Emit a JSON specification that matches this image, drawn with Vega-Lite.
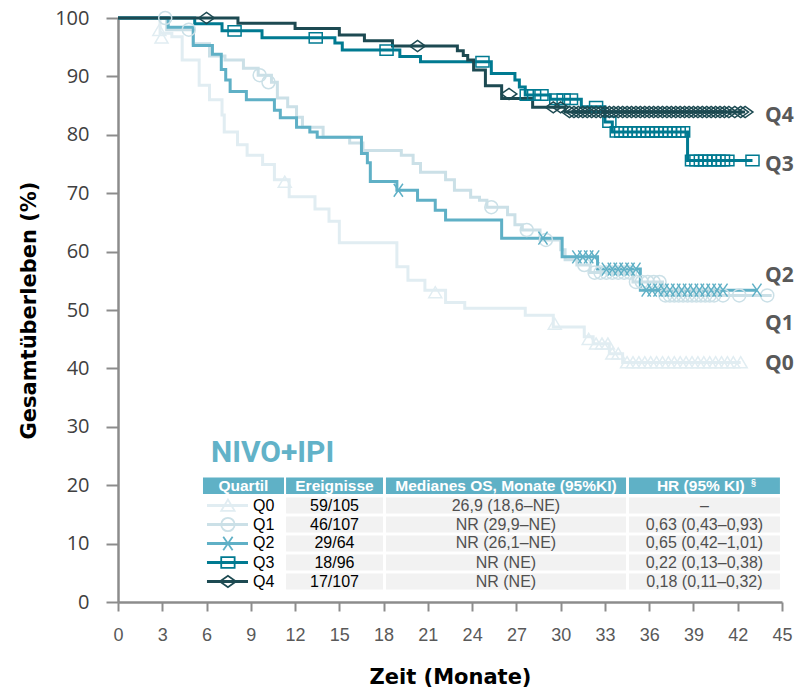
{
  "$schema": "https://vega.github.io/schema/vega-lite/v6.json",
  "width": 664,
  "height": 584,
  "autosize": {"type": "none"},
  "padding": {"left": 118, "top": 18, "right": 18, "bottom": 88},
  "background": "white",
  "config": {"view": {"stroke": null}},
  "datasets": {
    "km": [
      {"q":"Q0","t":0,"s":100},{"q":"Q0","t":2.85,"s":97.4},{"q":"Q0","t":3.65,"s":96.8},{"q":"Q0","t":4.35,"s":92.8},{"q":"Q0","t":5.5,"s":88.5},{"q":"Q0","t":6.2,"s":86.0},{"q":"Q0","t":7.05,"s":83.4},{"q":"Q0","t":7.2,"s":80.5},{"q":"Q0","t":8.1,"s":78.3},{"q":"Q0","t":8.75,"s":76.5},{"q":"Q0","t":9.8,"s":74.9},{"q":"Q0","t":10.6,"s":72.3},{"q":"Q0","t":11.6,"s":69.4},{"q":"Q0","t":13.35,"s":67.3},{"q":"Q0","t":14.3,"s":65.2},{"q":"Q0","t":15.0,"s":61.5},{"q":"Q0","t":18.9,"s":57.4},{"q":"Q0","t":19.65,"s":55.1},{"q":"Q0","t":20.8,"s":53.4},{"q":"Q0","t":22.2,"s":51.3},{"q":"Q0","t":23.5,"s":50.3},{"q":"Q0","t":27.6,"s":49.1},{"q":"Q0","t":29.5,"s":47.1},{"q":"Q0","t":31.6,"s":45.4},{"q":"Q0","t":32.2,"s":44.2},{"q":"Q0","t":33.3,"s":42.5},{"q":"Q0","t":34.2,"s":41.0},{"q":"Q0","t":42.2,"s":41.0},
      {"q":"Q1","t":0,"s":100},{"q":"Q1","t":3.3,"s":98.0},{"q":"Q1","t":5.1,"s":95.6},{"q":"Q1","t":6.2,"s":93.5},{"q":"Q1","t":7.25,"s":92.8},{"q":"Q1","t":8.5,"s":91.4},{"q":"Q1","t":9.5,"s":90.2},{"q":"Q1","t":10.4,"s":89.0},{"q":"Q1","t":10.8,"s":86.3},{"q":"Q1","t":11.5,"s":84.8},{"q":"Q1","t":12.1,"s":83.0},{"q":"Q1","t":12.5,"s":81.3},{"q":"Q1","t":13.9,"s":79.6},{"q":"Q1","t":15.7,"s":78.6},{"q":"Q1","t":16.6,"s":77.3},{"q":"Q1","t":19.2,"s":76.5},{"q":"Q1","t":20.0,"s":75.1},{"q":"Q1","t":20.5,"s":73.6},{"q":"Q1","t":22.2,"s":72.3},{"q":"Q1","t":22.8,"s":70.5},{"q":"Q1","t":23.9,"s":69.3},{"q":"Q1","t":24.5,"s":68.8},{"q":"Q1","t":25.0,"s":67.6},{"q":"Q1","t":26.4,"s":66.3},{"q":"Q1","t":26.9,"s":64.6},{"q":"Q1","t":27.4,"s":63.7},{"q":"Q1","t":28.6,"s":62.0},{"q":"Q1","t":30.0,"s":60.3},{"q":"Q1","t":30.3,"s":58.6},{"q":"Q1","t":31.1,"s":57.7},{"q":"Q1","t":32.0,"s":56.4},{"q":"Q1","t":34.9,"s":54.8},{"q":"Q1","t":36.9,"s":52.5},{"q":"Q1","t":44.3,"s":52.5},
      {"q":"Q2","t":0,"s":100},{"q":"Q2","t":3.4,"s":98.4},{"q":"Q2","t":5.1,"s":95.3},{"q":"Q2","t":6.4,"s":93.8},{"q":"Q2","t":7.0,"s":91.2},{"q":"Q2","t":7.3,"s":89.4},{"q":"Q2","t":7.6,"s":87.4},{"q":"Q2","t":8.7,"s":86.0},{"q":"Q2","t":10.6,"s":84.2},{"q":"Q2","t":11.0,"s":82.9},{"q":"Q2","t":12.1,"s":81.3},{"q":"Q2","t":13.0,"s":80.5},{"q":"Q2","t":13.5,"s":79.6},{"q":"Q2","t":16.5,"s":76.8},{"q":"Q2","t":16.9,"s":75.2},{"q":"Q2","t":17.1,"s":72.0},{"q":"Q2","t":18.9,"s":70.5},{"q":"Q2","t":20.3,"s":68.8},{"q":"Q2","t":21.5,"s":67.1},{"q":"Q2","t":22.2,"s":65.4},{"q":"Q2","t":26.0,"s":62.3},{"q":"Q2","t":30.1,"s":59.1},{"q":"Q2","t":32.5,"s":57.0},{"q":"Q2","t":35.4,"s":53.4},{"q":"Q2","t":43.3,"s":53.4},
      {"q":"Q3","t":0,"s":100},{"q":"Q3","t":5.2,"s":99.0},{"q":"Q3","t":7.05,"s":97.8},{"q":"Q3","t":9.76,"s":96.6},{"q":"Q3","t":14.7,"s":95.7},{"q":"Q3","t":15.2,"s":94.5},{"q":"Q3","t":19.1,"s":93.4},{"q":"Q3","t":20.5,"s":92.5},{"q":"Q3","t":25.3,"s":90.5},{"q":"Q3","t":26.9,"s":89.4},{"q":"Q3","t":27.2,"s":88.2},{"q":"Q3","t":27.6,"s":86.8},{"q":"Q3","t":29.3,"s":86.1},{"q":"Q3","t":31.4,"s":84.8},{"q":"Q3","t":33.0,"s":82.2},{"q":"Q3","t":33.5,"s":80.5},{"q":"Q3","t":38.6,"s":75.6},{"q":"Q3","t":43.0,"s":75.6},
      {"q":"Q4","t":0,"s":100},{"q":"Q4","t":8.13,"s":99.1},{"q":"Q4","t":12.0,"s":98.2},{"q":"Q4","t":15.0,"s":97.1},{"q":"Q4","t":16.7,"s":96.1},{"q":"Q4","t":18.6,"s":95.2},{"q":"Q4","t":23.0,"s":94.4},{"q":"Q4","t":23.4,"s":93.6},{"q":"Q4","t":23.7,"s":92.8},{"q":"Q4","t":24.1,"s":91.1},{"q":"Q4","t":24.9,"s":88.4},{"q":"Q4","t":26.0,"s":86.2},{"q":"Q4","t":28.1,"s":84.7},{"q":"Q4","t":30.3,"s":83.9},{"q":"Q4","t":42.5,"s":83.9}
    ],
    "cens": [
      {"q":"Q0","t":2.8,"s":97.9},{"q":"Q0","t":2.95,"s":96.6},{"q":"Q0","t":11.3,"s":71.9},{"q":"Q0","t":21.5,"s":53.0},{"q":"Q0","t":29.6,"s":47.6},{"q":"Q0","t":31.9,"s":45.0},{"q":"Q0","t":32.4,"s":44.2},{"q":"Q0","t":32.8,"s":44.2},{"q":"Q0","t":33.2,"s":44.2},{"q":"Q0","t":33.5,"s":42.5},{"q":"Q0","t":33.9,"s":42.5},{"q":"Q0","t":34.5,"s":41.0},{"q":"Q0","t":34.9,"s":41.0},{"q":"Q0","t":35.3,"s":41.0},{"q":"Q0","t":35.7,"s":41.0},{"q":"Q0","t":36.1,"s":41.0},{"q":"Q0","t":36.5,"s":41.0},{"q":"Q0","t":36.9,"s":41.0},{"q":"Q0","t":37.3,"s":41.0},{"q":"Q0","t":37.7,"s":41.0},{"q":"Q0","t":38.1,"s":41.0},{"q":"Q0","t":38.5,"s":41.0},{"q":"Q0","t":38.9,"s":41.0},{"q":"Q0","t":39.3,"s":41.0},{"q":"Q0","t":39.7,"s":41.0},{"q":"Q0","t":40.1,"s":41.0},{"q":"Q0","t":40.5,"s":41.0},{"q":"Q0","t":40.9,"s":41.0},{"q":"Q0","t":41.3,"s":41.0},{"q":"Q0","t":41.7,"s":41.0},{"q":"Q0","t":42.2,"s":41.0},
      {"q":"Q1","t":3.2,"s":100},{"q":"Q1","t":4.8,"s":98.0},{"q":"Q1","t":9.6,"s":90.2},{"q":"Q1","t":10.2,"s":89.0},{"q":"Q1","t":25.3,"s":67.6},{"q":"Q1","t":27.7,"s":63.7},{"q":"Q1","t":29.0,"s":62.0},{"q":"Q1","t":31.6,"s":57.7},{"q":"Q1","t":32.3,"s":56.4},{"q":"Q1","t":32.7,"s":56.4},{"q":"Q1","t":33.1,"s":56.4},{"q":"Q1","t":33.5,"s":56.4},{"q":"Q1","t":33.9,"s":56.4},{"q":"Q1","t":34.3,"s":56.4},{"q":"Q1","t":34.7,"s":56.4},{"q":"Q1","t":35.1,"s":54.8},{"q":"Q1","t":35.5,"s":54.8},{"q":"Q1","t":35.9,"s":54.8},{"q":"Q1","t":36.3,"s":54.8},{"q":"Q1","t":36.7,"s":54.8},{"q":"Q1","t":37.1,"s":52.5},{"q":"Q1","t":37.4,"s":52.5},{"q":"Q1","t":37.7,"s":52.5},{"q":"Q1","t":38.0,"s":52.5},{"q":"Q1","t":38.3,"s":52.5},{"q":"Q1","t":38.6,"s":52.5},{"q":"Q1","t":38.9,"s":52.5},{"q":"Q1","t":39.2,"s":52.5},{"q":"Q1","t":39.5,"s":52.5},{"q":"Q1","t":39.8,"s":52.5},{"q":"Q1","t":40.1,"s":52.5},{"q":"Q1","t":40.4,"s":52.5},{"q":"Q1","t":41.0,"s":52.5},{"q":"Q1","t":42.1,"s":52.5},{"q":"Q1","t":44.0,"s":52.5},
      {"q":"Q2","t":19.0,"s":70.5},{"q":"Q2","t":28.8,"s":62.3},{"q":"Q2","t":31.1,"s":59.1},{"q":"Q2","t":31.5,"s":59.1},{"q":"Q2","t":31.9,"s":59.1},{"q":"Q2","t":32.3,"s":59.1},{"q":"Q2","t":33.1,"s":57.0},{"q":"Q2","t":33.5,"s":57.0},{"q":"Q2","t":33.9,"s":57.0},{"q":"Q2","t":34.3,"s":57.0},{"q":"Q2","t":34.7,"s":57.0},{"q":"Q2","t":35.1,"s":57.0},{"q":"Q2","t":35.8,"s":53.4},{"q":"Q2","t":36.2,"s":53.4},{"q":"Q2","t":36.6,"s":53.4},{"q":"Q2","t":37.0,"s":53.4},{"q":"Q2","t":37.4,"s":53.4},{"q":"Q2","t":37.8,"s":53.4},{"q":"Q2","t":38.2,"s":53.4},{"q":"Q2","t":38.6,"s":53.4},{"q":"Q2","t":39.0,"s":53.4},{"q":"Q2","t":39.4,"s":53.4},{"q":"Q2","t":39.8,"s":53.4},{"q":"Q2","t":40.2,"s":53.4},{"q":"Q2","t":40.6,"s":53.4},{"q":"Q2","t":41.0,"s":53.4},{"q":"Q2","t":43.3,"s":53.4},
      {"q":"Q3","t":7.9,"s":97.8},{"q":"Q3","t":13.4,"s":96.6},{"q":"Q3","t":18.2,"s":94.5},{"q":"Q3","t":24.7,"s":92.5},{"q":"Q3","t":27.7,"s":86.8},{"q":"Q3","t":28.2,"s":86.8},{"q":"Q3","t":28.7,"s":86.8},{"q":"Q3","t":29.7,"s":86.1},{"q":"Q3","t":30.2,"s":86.1},{"q":"Q3","t":30.7,"s":86.1},{"q":"Q3","t":32.4,"s":84.8},{"q":"Q3","t":33.3,"s":82.2},{"q":"Q3","t":33.8,"s":80.5},{"q":"Q3","t":34.1,"s":80.5},{"q":"Q3","t":34.4,"s":80.5},{"q":"Q3","t":34.7,"s":80.5},{"q":"Q3","t":35.0,"s":80.5},{"q":"Q3","t":35.3,"s":80.5},{"q":"Q3","t":35.6,"s":80.5},{"q":"Q3","t":35.9,"s":80.5},{"q":"Q3","t":36.2,"s":80.5},{"q":"Q3","t":36.5,"s":80.5},{"q":"Q3","t":36.8,"s":80.5},{"q":"Q3","t":37.1,"s":80.5},{"q":"Q3","t":37.4,"s":80.5},{"q":"Q3","t":37.7,"s":80.5},{"q":"Q3","t":38.0,"s":80.5},{"q":"Q3","t":38.3,"s":80.5},{"q":"Q3","t":38.9,"s":75.6},{"q":"Q3","t":39.2,"s":75.6},{"q":"Q3","t":39.5,"s":75.6},{"q":"Q3","t":39.8,"s":75.6},{"q":"Q3","t":40.1,"s":75.6},{"q":"Q3","t":40.4,"s":75.6},{"q":"Q3","t":40.7,"s":75.6},{"q":"Q3","t":41.0,"s":75.6},{"q":"Q3","t":41.3,"s":75.6},{"q":"Q3","t":43.0,"s":75.6},
      {"q":"Q4","t":6.0,"s":100},{"q":"Q4","t":20.3,"s":95.2},{"q":"Q4","t":26.5,"s":87.0},{"q":"Q4","t":29.5,"s":84.7},{"q":"Q4","t":30.0,"s":84.7},{"q":"Q4","t":30.6,"s":83.9},{"q":"Q4","t":30.9,"s":83.9},{"q":"Q4","t":31.2,"s":83.9},{"q":"Q4","t":31.5,"s":83.9},{"q":"Q4","t":31.8,"s":83.9},{"q":"Q4","t":32.1,"s":83.9},{"q":"Q4","t":32.4,"s":83.9},{"q":"Q4","t":32.7,"s":83.9},{"q":"Q4","t":33.0,"s":83.9},{"q":"Q4","t":33.3,"s":83.9},{"q":"Q4","t":33.6,"s":83.9},{"q":"Q4","t":33.9,"s":83.9},{"q":"Q4","t":34.2,"s":83.9},{"q":"Q4","t":34.5,"s":83.9},{"q":"Q4","t":34.8,"s":83.9},{"q":"Q4","t":35.1,"s":83.9},{"q":"Q4","t":35.4,"s":83.9},{"q":"Q4","t":35.7,"s":83.9},{"q":"Q4","t":36.0,"s":83.9},{"q":"Q4","t":36.3,"s":83.9},{"q":"Q4","t":36.6,"s":83.9},{"q":"Q4","t":36.9,"s":83.9},{"q":"Q4","t":37.2,"s":83.9},{"q":"Q4","t":37.5,"s":83.9},{"q":"Q4","t":37.8,"s":83.9},{"q":"Q4","t":38.1,"s":83.9},{"q":"Q4","t":38.4,"s":83.9},{"q":"Q4","t":38.7,"s":83.9},{"q":"Q4","t":39.0,"s":83.9},{"q":"Q4","t":39.3,"s":83.9},{"q":"Q4","t":39.6,"s":83.9},{"q":"Q4","t":39.9,"s":83.9},{"q":"Q4","t":40.2,"s":83.9},{"q":"Q4","t":40.5,"s":83.9},{"q":"Q4","t":40.8,"s":83.9},{"q":"Q4","t":41.1,"s":83.9},{"q":"Q4","t":41.4,"s":83.9},{"q":"Q4","t":41.8,"s":83.9},{"q":"Q4","t":42.2,"s":83.9},{"q":"Q4","t":42.5,"s":83.9}
    ],
    "headcells": [
      {"x1":5.76,"x2":11.25,"y1":21.3,"y2":18.5},
      {"x1":11.39,"x2":17.96,"y1":21.3,"y2":18.5},
      {"x1":18.16,"x2":34.43,"y1":21.3,"y2":18.5},
      {"x1":34.63,"x2":44.86,"y1":21.3,"y2":18.5}
    ],
    "bodycells": [
      {"x1":11.39,"x2":17.96,"y1":17.89,"y2":15.15},{"x1":18.16,"x2":34.43,"y1":17.89,"y2":15.15},{"x1":34.63,"x2":44.86,"y1":17.89,"y2":15.15},
      {"x1":11.39,"x2":17.96,"y1":14.64,"y2":11.90},{"x1":18.16,"x2":34.43,"y1":14.64,"y2":11.90},{"x1":34.63,"x2":44.86,"y1":14.64,"y2":11.90},
      {"x1":11.39,"x2":17.96,"y1":11.39,"y2":8.65},{"x1":18.16,"x2":34.43,"y1":11.39,"y2":8.65},{"x1":34.63,"x2":44.86,"y1":11.39,"y2":8.65},
      {"x1":11.39,"x2":17.96,"y1":8.13,"y2":5.39},{"x1":18.16,"x2":34.43,"y1":8.13,"y2":5.39},{"x1":34.63,"x2":44.86,"y1":8.13,"y2":5.39},
      {"x1":11.39,"x2":17.96,"y1":4.88,"y2":2.14},{"x1":18.16,"x2":34.43,"y1":4.88,"y2":2.14},{"x1":34.63,"x2":44.86,"y1":4.88,"y2":2.14}
    ],
    "headtext": [
      {"label":"Quartil","x":8.5,"y":19.85},
      {"label":"Ereignisse","x":14.67,"y":19.85},
      {"label":"Medianes  OS, Monate (95%KI)","x":26.29,"y":19.85},
      {"label":"HR (95% KI)","x":39.5,"y":19.85}
    ],
    "sup": [{"label":"§","x":42.9,"y":20.5}],
    "bodytext": [
      {"col":"ev","label":"59/105","x":14.67,"y":16.52},{"col":"med","label":"26,9 (18,6–NE)","x":26.29,"y":16.52},{"col":"hr","label":"–","x":39.74,"y":16.52},
      {"col":"ev","label":"46/107","x":14.67,"y":13.27},{"col":"med","label":"NR (29,9–NE)","x":26.29,"y":13.27},{"col":"hr","label":"0,63 (0,43–0,93)","x":39.74,"y":13.27},
      {"col":"ev","label":"29/64","x":14.67,"y":10.02},{"col":"med","label":"NR (26,1–NE)","x":26.29,"y":10.02},{"col":"hr","label":"0,65 (0,42–1,01)","x":39.74,"y":10.02},
      {"col":"ev","label":"18/96","x":14.67,"y":6.76},{"col":"med","label":"NR (NE)","x":26.29,"y":6.76},{"col":"hr","label":"0,22 (0,13–0,38)","x":39.74,"y":6.76},
      {"col":"ev","label":"17/107","x":14.67,"y":3.51},{"col":"med","label":"NR (NE)","x":26.29,"y":3.51},{"col":"hr","label":"0,18 (0,11–0,32)","x":39.74,"y":3.51}
    ],
    "legend": [
      {"q":"Q0","x1":6.03,"x2":8.81,"xm":7.45,"xl":9.15,"y":16.52},
      {"q":"Q1","x1":6.03,"x2":8.81,"xm":7.45,"xl":9.15,"y":13.27},
      {"q":"Q2","x1":6.03,"x2":8.81,"xm":7.45,"xl":9.15,"y":10.02},
      {"q":"Q3","x1":6.03,"x2":8.81,"xm":7.45,"xl":9.15,"y":6.76},
      {"q":"Q4","x1":6.03,"x2":8.81,"xm":7.45,"xl":9.15,"y":3.51}
    ],
    "endlabels": [
      {"q":"Q4","x":43.85,"y":83.2},
      {"q":"Q3","x":43.85,"y":74.9},
      {"q":"Q2","x":43.85,"y":55.8},
      {"q":"Q1","x":43.85,"y":47.6},
      {"q":"Q0","x":43.85,"y":40.75}
    ],
    "title": [{"label":"NIVO+IPI","x":6.3,"y":23.97}]
  },
  "layer": [
    {
      "data": {"name": "km"},
      "mark": {"type": "line", "interpolate": "step-after", "strokeWidth": 3},
      "encoding": {
        "x": {"field": "t", "type": "quantitative",
          "scale": {"domain": [0, 45], "nice": false, "zero": true},
          "axis": {"title": "Zeit (Monate)", "values": [0,3,6,9,12,15,18,21,24,27,30,33,36,39,42,45],
            "grid": false, "tickSize": 9, "tickWidth": 2, "tickColor": "#8c8c8c",
            "domainColor": "#8c8c8c", "domainWidth": 2.5, "labelFlush": false, "labelOverlap": false,
            "labelFont": "Liberation Sans", "labelFontSize": 18, "labelColor": "#595959", "labelPadding": 15,
            "titleFont": "DejaVu Sans", "titleFontSize": 21, "titleFontWeight": "bold", "titleColor": "#000000", "titlePadding": 22}},
        "y": {"field": "s", "type": "quantitative",
          "scale": {"domain": [0, 100], "nice": false},
          "axis": {"title": "Gesamtüberleben (%)", "values": [0,10,20,30,40,50,60,70,80,90,100],
            "grid": false, "tickSize": 12, "tickWidth": 2, "tickColor": "#8c8c8c",
            "domainColor": "#8c8c8c", "domainWidth": 2.5, "labelOverlap": false,
            "labelFont": "Open Sans", "labelFontSize": 20, "labelColor": "#404040", "labelPadding": 17,
            "titleFont": "DejaVu Sans", "titleFontSize": 21, "titleFontWeight": "bold", "titleColor": "#000000",
            "titleX": -89, "titleY": 292, "titleAngle": 270, "titleAlign": "center", "titleBaseline": "middle"}},
        "color": {"field": "q", "type": "nominal", "legend": null,
          "scale": {"domain": ["Q0","Q1","Q2","Q3","Q4"], "range": ["#e1edf2","#cbe0e7","#5fb0c6","#007a91","#1d4a52"]}},
        "detail": {"field": "q"}
      }
    },
    {
      "data": {"name": "cens"},
      "mark": {"type": "point", "filled": false, "strokeWidth": 1.5, "size": 170, "opacity": 1},
      "encoding": {
        "x": {"field": "t", "type": "quantitative"},
        "y": {"field": "s", "type": "quantitative"},
        "color": {"field": "q", "type": "nominal", "legend": null},
        "shape": {"field": "q", "type": "nominal", "legend": null,
          "scale": {"domain": ["Q0","Q1","Q2","Q3","Q4"],
            "range": ["M0,-0.9L1,0.8L-1,0.8Z","circle","M-0.7,-1L0.7,1M0.7,-1L-0.7,1","M-1,-0.8L1,-0.8L1,0.8L-1,0.8Z","M-1.2,0L0,-0.85L1.2,0L0,0.85Z"]}}
      }
    },
    {
      "data": {"name": "headcells"},
      "mark": {"type": "rect", "color": "#5fb1c6"},
      "encoding": {
        "x": {"field": "x1", "type": "quantitative"}, "x2": {"field": "x2"},
        "y": {"field": "y1", "type": "quantitative"}, "y2": {"field": "y2"}
      }
    },
    {
      "data": {"name": "bodycells"},
      "mark": {"type": "rect", "color": "#f2f2f2"},
      "encoding": {
        "x": {"field": "x1", "type": "quantitative"}, "x2": {"field": "x2"},
        "y": {"field": "y1", "type": "quantitative"}, "y2": {"field": "y2"}
      }
    },
    {
      "data": {"name": "headtext"},
      "mark": {"type": "text", "font": "Liberation Sans", "fontSize": 15.5, "fontWeight": "bold", "color": "#ffffff", "align": "center", "baseline": "middle"},
      "encoding": {
        "x": {"field": "x", "type": "quantitative"},
        "y": {"field": "y", "type": "quantitative"},
        "text": {"field": "label"}
      }
    },
    {
      "data": {"name": "sup"},
      "mark": {"type": "text", "font": "Liberation Sans", "fontSize": 9, "fontWeight": "bold", "color": "#ffffff", "align": "left", "baseline": "middle"},
      "encoding": {
        "x": {"field": "x", "type": "quantitative"},
        "y": {"field": "y", "type": "quantitative"},
        "text": {"field": "label"}
      }
    },
    {
      "data": {"name": "bodytext"},
      "mark": {"type": "text", "font": "Liberation Sans", "fontSize": 16, "align": "center", "baseline": "middle"},
      "encoding": {
        "x": {"field": "x", "type": "quantitative"},
        "y": {"field": "y", "type": "quantitative"},
        "text": {"field": "label"},
        "color": {"condition": {"test": "datum.col === 'ev'", "value": "#000000"}, "value": "#505050"}
      }
    },
    {
      "data": {"name": "legend"},
      "mark": {"type": "rule", "strokeWidth": 3},
      "encoding": {
        "x": {"field": "x1", "type": "quantitative"}, "x2": {"field": "x2"},
        "y": {"field": "y", "type": "quantitative"},
        "color": {"field": "q", "type": "nominal", "legend": null}
      }
    },
    {
      "data": {"name": "legend"},
      "mark": {"type": "point", "filled": false, "strokeWidth": 1.8, "size": 180, "opacity": 1},
      "encoding": {
        "x": {"field": "xm", "type": "quantitative"},
        "y": {"field": "y", "type": "quantitative"},
        "color": {"field": "q", "type": "nominal", "legend": null},
        "shape": {"field": "q", "type": "nominal", "legend": null}
      }
    },
    {
      "data": {"name": "legend"},
      "mark": {"type": "text", "font": "Liberation Sans", "fontSize": 16, "color": "#000000", "align": "left", "baseline": "middle"},
      "encoding": {
        "x": {"field": "xl", "type": "quantitative"},
        "y": {"field": "y", "type": "quantitative"},
        "text": {"field": "q"}
      }
    },
    {
      "data": {"name": "endlabels"},
      "mark": {"type": "text", "font": "Open Sans", "fontSize": 21, "fontWeight": "bold", "color": "#595959", "align": "left", "baseline": "middle"},
      "encoding": {
        "x": {"field": "x", "type": "quantitative"},
        "y": {"field": "y", "type": "quantitative"},
        "text": {"field": "q"}
      }
    },
    {
      "data": {"name": "title"},
      "mark": {"type": "text", "font": "Roboto", "fontSize": 30, "fontWeight": "bold", "color": "#62b2c8", "align": "left", "baseline": "alphabetic"},
      "encoding": {
        "x": {"field": "x", "type": "quantitative"},
        "y": {"field": "y", "type": "quantitative"},
        "text": {"field": "label"}
      }
    }
  ]
}
